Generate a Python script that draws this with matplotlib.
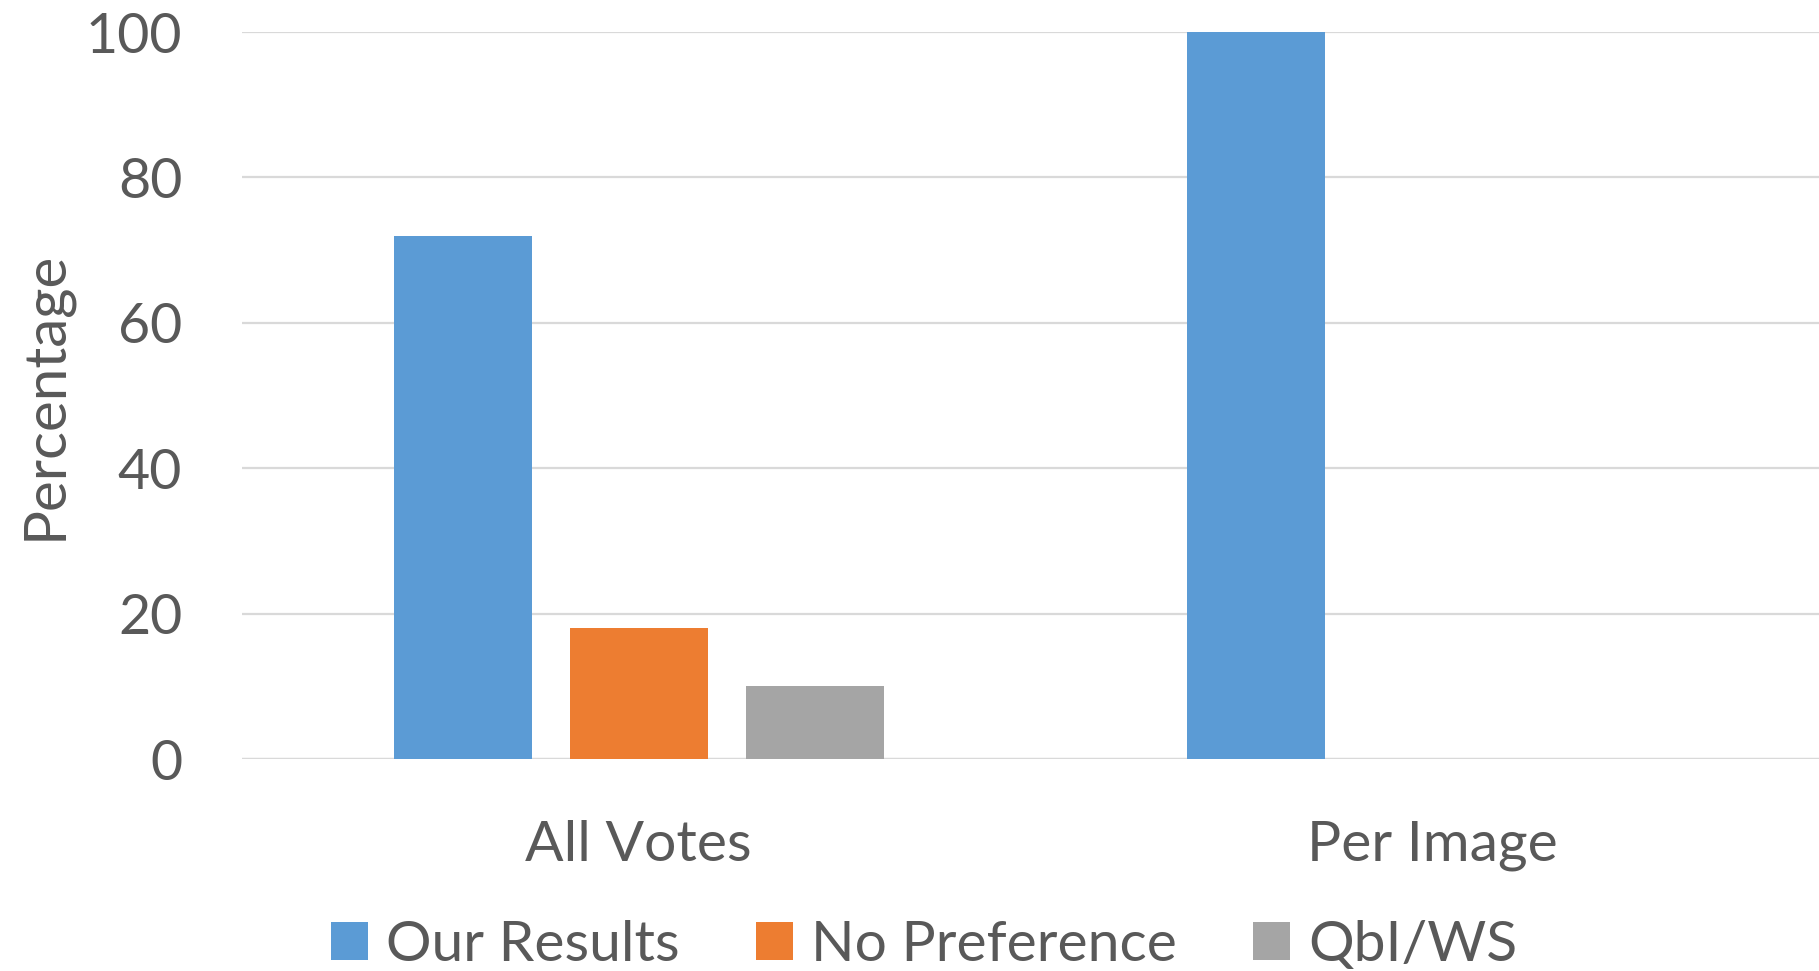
import matplotlib
matplotlib.use('Agg')
import matplotlib.pyplot as plt
import numpy as np

plt.rcParams['font.family'] = ['Lato', 'DejaVu Sans']

categories = ['All Votes', 'Per Image']
series_names = ['Our Results', 'No Preference', 'QbI/WS']
our_results = [72, 100]
no_preference = [18, 0]
qbi_ws = [10, 0]

colors = ['#5B9BD5', '#ED7D31', '#A5A5A5']
text_color = '#595959'
grid_color = '#D9D9D9'

fig = plt.figure(figsize=(18.19, 9.71), dpi=100, facecolor='white')
ax = fig.add_axes([0.133, 0.2183, 0.867, 0.7487])

x = np.arange(len(categories))
bar_width = 0.174
offset = 0.222

for i, (vals, name) in enumerate(zip([our_results, no_preference, qbi_ws], series_names)):
    ax.bar(x + (i - 1) * offset, vals, width=bar_width, color=colors[i], label=name, zorder=3)

ax.set_xlim(-0.5, 1.487)
ax.set_ylim(0, 100)
ax.set_yticks([0, 20, 40, 60, 80, 100])
ax.set_xticks(x)
ax.set_xticklabels(categories)

ax.yaxis.grid(True, color=grid_color, linewidth=1.6, zorder=0)
ax.set_axisbelow(True)
for spine in ax.spines.values():
    spine.set_visible(False)
ax.axhline(0, color=grid_color, linewidth=1.6, zorder=2)

ax.tick_params(axis='y', length=0, pad=43, labelsize=40, labelcolor=text_color)
ax.tick_params(axis='x', length=0, pad=44, labelsize=41, labelcolor=text_color)

ax.set_ylabel('Percentage', fontsize=42, color=text_color, labelpad=10)

fig.legend(loc='center', bbox_to_anchor=(0.508, 0.026), ncol=3, frameon=False,
           fontsize=41, labelcolor=text_color, handlelength=0.65, handleheight=0.65,
           handletextpad=0.32, columnspacing=1.33, borderaxespad=0)

fig.savefig('out.png', dpi=100, facecolor='white')
